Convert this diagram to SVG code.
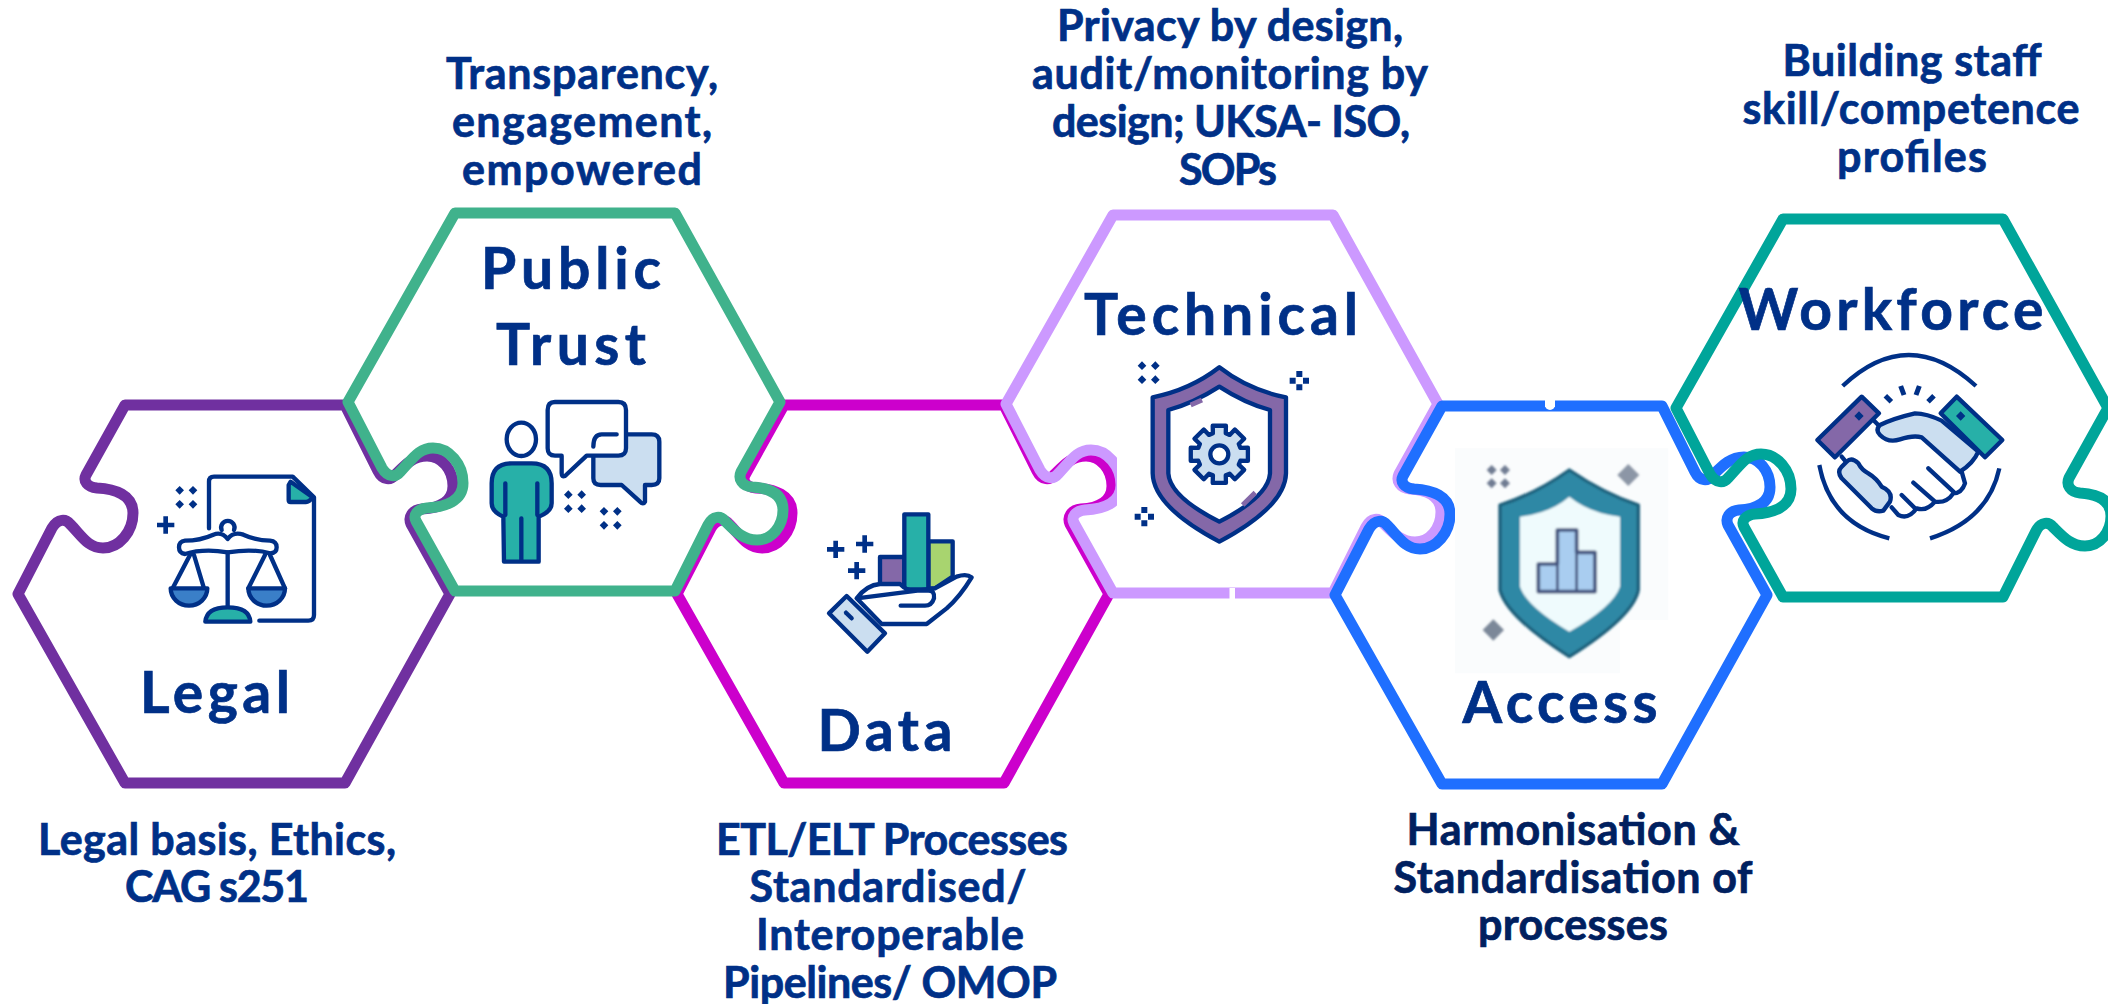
<svg xmlns="http://www.w3.org/2000/svg" xmlns:xlink="http://www.w3.org/1999/xlink" width="2108" height="1004" viewBox="0 0 2108 1004">
<style>
text{font-family:"Lato","Carlito","Liberation Sans",sans-serif;font-weight:700;fill:#003087;text-anchor:middle;stroke:#003087;stroke-width:.7}
.h{font-size:57px}
.d{font-size:43px}
.dk{fill:#00205F;stroke:#00205F}
.hx{fill:none;stroke-width:11;stroke-linejoin:round}
.i{stroke:#003087;stroke-width:13;stroke-linejoin:round;stroke-linecap:round;fill:none}
.w{fill:#fff}.t{fill:#27B0A8}.lb{fill:#CBDEF0}.p{fill:#8468A8}.b{fill:#3A7FC8}.l{fill:#A8D46F}
.nv{fill:#003087;stroke:none}
</style>
<defs>
<path id="hex" d="M-110,-189 L110,-189 L143,-123 C148,-113 156,-114 160,-119 C170,-129 178,-138 192,-138 C207,-138 218,-124 218,-108 C218,-92 205,-86 187,-85 C177,-84 173,-77 176,-70 L215,0 L110,189 L-110,189 L-217,0 L-183,-66 C-177,-76 -169,-75 -165,-70 C-153,-58 -147,-46 -132,-46 C-116,-46 -102,-62 -102,-81 C-102,-99 -120,-105 -138,-106 C-148,-107 -152,-113 -149,-119 Z"/>
<path id="sparkX" class="nv" d="M-20,-34 L-7,-21 L-20,-8 L-33,-21Z M20,-34 L33,-21 L20,-8 L7,-21Z M-20,8 L-7,21 L-20,34 L-33,21Z M20,8 L33,21 L20,34 L7,21Z"/>
<path id="sparkQ" class="nv" d="M-9,-29 H9 V-11 H-9Z M-9,11 H9 V29 H-9Z M-29,-9 H-11 V9 H-29Z M11,-9 H29 V9 H11Z"/>
<path id="plus" class="nv" d="M-7,-26 H7 V-7 H26 V7 H7 V26 H-7 V7 H-26 V-7 H-7Z"/>
<filter id="blur" x="-5%" y="-5%" width="110%" height="110%"><feGaussianBlur stdDeviation="3"/></filter>
</defs>

<g id="legal">
<use xlink:href="#hex" href="#hex" class="hx" stroke="#7030A0" transform="translate(235,594)"/>
<g transform="translate(0,380) scale(.33333)">
<path class="i" d="M627,445 V305 Q627,290 642,290 H878 L942,352 V705 Q942,722 925,722 H778"/>
<path class="i t" d="M872,305 L866,315 V360 Q866,366 872,366 H918 Q928,366 938,352 Z"/>
<use xlink:href="#sparkX" href="#sparkX" transform="translate(559,352)"/>
<use xlink:href="#plus" href="#plus" transform="translate(497,435)"/>
<path class="i" d="M665,450 A20,20 0 1 1 702,450"/>
<path class="i w" d="M555,482 Q600,482 640,464 Q665,454 683,477 Q700,454 730,464 Q770,482 810,482 Q830,484 830,502 Q830,520 810,520 Q760,505 683,517 Q610,505 555,522 Q537,520 537,502 Q537,484 555,482 Z"/>
<path class="i" d="M683,517 V680 M570,525 L518,625 M582,525 L612,625 M795,525 L745,625 M810,525 L855,625"/>
<path class="i b" d="M512,625 H622 A55,52 0 0 1 512,625 Z"/>
<path class="i b" d="M745,625 H855 A55,52 0 0 1 745,625 Z"/>
<path class="i t" d="M616,725 Q620,682 683,682 Q748,682 751,725 Z"/>
</g>
<text class="h" x="215" y="713" textLength="150">Legal</text>
<text class="d" x="217" y="855" textLength="358">Legal basis, Ethics,</text>
<text class="d" x="217" y="902" textLength="184">CAG s251</text>
</g>

<g id="data">
<use xlink:href="#hex" href="#hex" class="hx" stroke="#CC00CC" transform="translate(894,594)"/>
<g transform="translate(660,380) scale(.33333)">
<use xlink:href="#plus" href="#plus" transform="translate(527,508)"/>
<use xlink:href="#plus" href="#plus" transform="translate(614,492)"/>
<use xlink:href="#plus" href="#plus" transform="translate(590,572)"/>
<rect class="i p" x="660" y="531" width="73" height="85"/>
<path class="i l" d="M805,484 H878 V590 L825,625 H805 Z"/>
<rect class="i t" x="733" y="403" width="72" height="225"/>
<path class="i w" d="M590,655 Q620,615 660,612 H720 Q740,632 760,632 H805 Q825,632 822,655 Q815,677 795,677 H722 M825,625 L890,590 Q920,580 935,592 Q900,650 860,685 L800,732 H665 L590,655 Z"/>
<path class="i lb" d="M560,648 L675,760 L622,815 L507,700 Z"/>
<path class="i" d="M558,698 L575,715"/>
</g>
<text class="h" x="885" y="751" textLength="135">Data</text>
<text class="d" x="892" y="855" textLength="352">ETL/ELT Processes</text>
<text class="d" x="888" y="902" textLength="277">Standardised/</text>
<text class="d" x="890" y="950" textLength="268">Interoperable</text>
<text class="d" x="890" y="998" textLength="334">Pipelines/ OMOP</text>
</g>

<g id="public-trust">
<use xlink:href="#hex" href="#hex" class="hx" stroke="#40B28C" transform="translate(565,402) scale(1,-1)"/>
<g transform="translate(330,190) scale(.33333)">
<ellipse class="i" cx="574" cy="748" rx="44" ry="50"/>
<path class="i t" d="M520,980 Q485,965 485,940 V880 Q485,820 545,820 H605 Q665,820 665,880 V940 Q665,965 626,980 V1115 H522 Z"/>
<path class="i" d="M526,880 V975 M622,880 V975 M574,985 V1110"/>
<path class="i lb" d="M815,733 H965 Q988,733 988,755 V865 Q988,885 965,885 H945 V935 Q940,945 930,935 L875,885 H812 Q790,885 790,865 V755 Q790,733 815,733 Z"/>
<path class="i w" d="M675,636 H865 Q888,636 888,660 V775 Q888,797 865,797 H770 L705,858 Q695,862 695,850 V797 H675 Q653,797 653,775 V660 Q653,636 675,636 Z"/>
<path class="i" d="M860,733 H815 Q790,733 790,770"/>
<use xlink:href="#sparkX" href="#sparkX" transform="translate(735,935)"/>
<use xlink:href="#sparkX" href="#sparkX" transform="translate(842,985)"/>
</g>
<text class="h" x="571" y="289" textLength="180">Public</text>
<text class="h" x="571" y="365" textLength="150">Trust</text>
<text class="d" x="582" y="89" textLength="272">Transparency,</text>
<text class="d" x="582" y="137" textLength="260">engagement,</text>
<text class="d" x="582" y="185" textLength="240">empowered</text>
</g>

<g id="technical">
<use xlink:href="#hex" href="#hex" class="hx" stroke="#CC99FF" transform="translate(1223,404) scale(1,-1)"/>
<rect class="w" x="1117" y="438" width="14" height="82"/>
<rect class="w" x="1229.500" y="588" width="5.500" height="12"/>
<g transform="translate(990,190) scale(.33333)">
<path class="i p" d="M688,532 Q600,600 488,622 V850 Q490,950 688,1055 Q885,950 888,850 V622 Q775,600 688,532 Z"/>
<path class="i w" d="M688,590 Q610,640 535,660 V850 Q540,920 688,995 Q835,920 840,850 V660 Q765,640 688,590 Z"/>
<path d="M602,645 L636,630 M796,908 L758,945" stroke="#8468A8" stroke-width="15" fill="none"/>
<path class="i lb" transform="translate(688,793)" d="M-19.300,-63.100 L-19.800,-85.700 L19.800,-85.700 L19.300,-63.100 L31,-58.300 L46.600,-74.600 L74.600,-46.600 L58.300,-31 L63.100,-19.300 L85.700,-19.800 L85.700,19.800 L63.100,19.300 L58.300,31 L74.600,46.600 L46.600,74.600 L31,58.300 L19.300,63.100 L19.800,85.700 L-19.800,85.700 L-19.300,63.100 L-31,58.300 L-46.600,74.600 L-74.600,46.600 L-58.300,31 L-63.100,19.300 L-85.700,19.800 L-85.700,-19.800 L-63.100,-19.300 L-58.300,-31 L-74.600,-46.600 L-46.600,-74.600 L-31,-58.300 Z"/>
<circle class="i w" cx="688" cy="793" r="27"/>
<use xlink:href="#sparkX" href="#sparkX" transform="translate(476,548)"/>
<use xlink:href="#sparkQ" href="#sparkQ" transform="translate(928,572)"/>
<use xlink:href="#sparkQ" href="#sparkQ" transform="translate(463,980)"/>
</g>
<text class="h" x="1221" y="335" textLength="274">Technical</text>
<text class="d" x="1230" y="41" textLength="346">Privacy by design,</text>
<text class="d" x="1230" y="89" textLength="396">audit/monitoring by</text>
<text class="d" x="1231" y="137" textLength="358">design; UKSA- ISO,</text>
<text class="d" x="1228" y="185" textLength="98">SOPs</text>
</g>

<g id="access">
<use xlink:href="#hex" href="#hex" class="hx" stroke="#1F6FFF" transform="translate(1552,595)"/>
<rect class="w" x="1545" y="400" width="10" height="7"/>
<circle class="w" cx="1550" cy="405" r="5"/>
<g transform="translate(1320,390) scale(.33333)">
<path d="M405,175 H1045 V690 L900,690 V850 H405 Z" fill="#FAFCFD"/>
<g filter="url(#blur)">
<path d="M748,240 Q650,310 540,345 V600 Q560,680 748,800 Q940,680 955,600 V345 Q850,310 748,240 Z" fill="#2E88A5" stroke="#1F5F7A" stroke-width="10" stroke-linejoin="round"/>
<path d="M748,320 Q690,370 600,380 V590 Q620,650 748,725 Q880,650 900,590 V380 Q810,370 748,320 Z" fill="#EFFBFD"/>
<path d="M655,605 V522 H712 V420 H770 V487 H825 V605 Z" fill="#A9CDF0" stroke="#44557F" stroke-width="11" stroke-linejoin="round"/>
<path d="M712,522 V605 M770,487 V605" stroke="#44557F" stroke-width="8" fill="none"/>
<path d="M515,225 L530,240 L515,255 L500,240Z M555,225 L570,240 L555,255 L540,240Z M515,265 L530,280 L515,295 L500,280Z M555,265 L570,280 L555,295 L540,280Z" fill="#6F7B92"/>
<path d="M925,222 L958,255 L925,288 L892,255Z" fill="#8C96A6"/>
<path d="M520,688 L552,720 L520,752 L488,720Z" fill="#7C8899"/>
</g>
</g>
<text class="h" x="1560" y="723" textLength="195">Access</text>
<text class="d dk" x="1573" y="845" textLength="333">Harmonisation &amp;</text>
<text class="d dk" x="1573" y="893" textLength="359">Standardisation of</text>
<text class="d dk" x="1573" y="940" textLength="190">processes</text>
</g>

<g id="workforce">
<use xlink:href="#hex" href="#hex" class="hx" stroke="#00A59A" transform="translate(1893,408) scale(1,-1)"/>
<g transform="translate(1660,200) scale(.33333)">
<path class="i" style="stroke-linecap:butt" d="M548,558 Q745,372 948,558 M478,795 Q510,970 688,1015 M1018,805 Q985,960 810,1015"/>
<path class="i" style="stroke-linecap:butt;stroke-width:15" d="M676,587 L694,605 M722,558 L732,585 M778,558 L768,585 M822,587 L804,605"/>
<path class="i" d="M545,770 L560,788 M640,660 L660,680"/>
<path class="w" d="M780,705 L905,815 L915,850 Q905,880 880,880 Q860,910 825,905 Q800,935 770,925 Q745,960 715,945 L640,880 L650,700 Z"/>
<path class="i lb" d="M845,662 Q800,640 765,640 Q700,655 660,675 Q645,690 660,705 Q685,730 720,718 Q760,705 785,712 L900,815 Q940,790 955,755 Z"/>
<path class="i" d="M905,815 L915,850 Q905,880 880,880 Q860,910 825,905 Q800,935 770,925 Q745,960 715,945 L695,922 M805,805 L880,875 M760,848 L825,905 M725,885 L765,925"/>
<path class="i lb" d="M560,785 Q575,770 595,790 Q605,810 625,820 Q650,835 665,860 Q700,875 690,905 L670,932 Q650,938 635,925 L545,835 Q530,815 545,800 Z"/>
<path class="i p" d="M605,590 L657,640 L525,772 L472,720 Z"/>
<path class="i t" d="M890,590 L1027,720 L975,772 L842,640 Z"/>
<path class="nv" d="M597,634 L611,648 L597,662 L583,648Z M902,634 L916,648 L902,662 L888,648Z"/>
</g>
<text class="h" x="1891" y="330" textLength="305">Workforce</text>
<text class="d" x="1912" y="76" textLength="259">Building staff</text>
<text class="d" x="1911" y="124" textLength="337">skill/competence</text>
<text class="d" x="1912" y="172" textLength="150">profiles</text>
</g>
</svg>
